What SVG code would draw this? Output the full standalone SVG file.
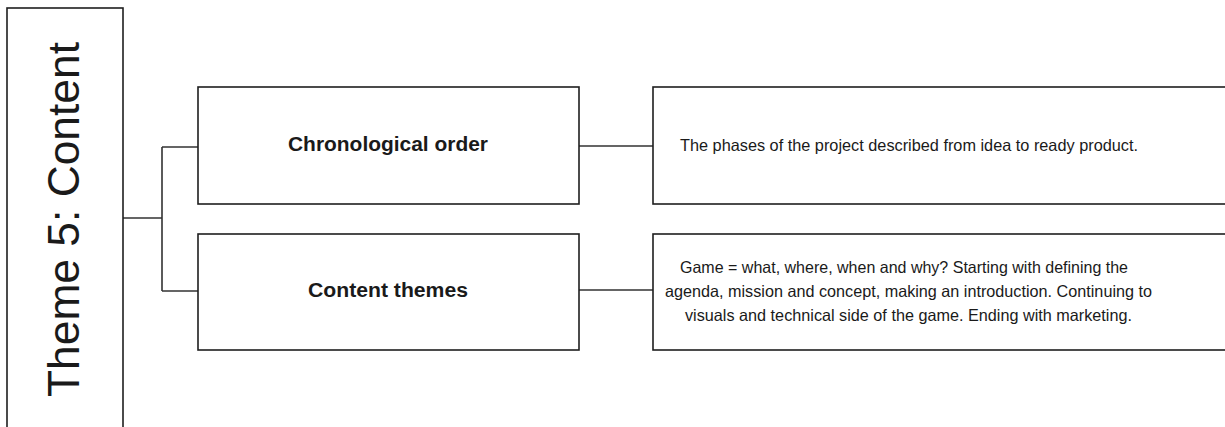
<svg xmlns="http://www.w3.org/2000/svg" width="1225" height="427" viewBox="0 0 1225 427">
<style>
.box{fill:#fff;stroke:#1f1f1f;stroke-width:1.6}
.conn{fill:none;stroke:#333;stroke-width:1.6}
.t{font-family:"Liberation Sans",Arial,sans-serif;fill:#1a1a1a}
.b{font-weight:bold;font-size:19.5px}
.r{font-size:16.5px}
</style>
<rect width="1225" height="427" fill="#fff"/>
<g id="connectors">
<path class="conn" d="M123 218H162M162 147V291M162 147H198M162 291H198"/>
<path class="conn" d="M579 146H653M579 290H653"/>
</g>
<g id="theme">
<rect class="box" x="7" y="8" width="116" height="440"/>
<text class="t" transform="translate(79,219.5) rotate(-90)" text-anchor="middle" font-size="45" textLength="355" lengthAdjust="spacingAndGlyphs">Theme 5: Content</text>
</g>
<g id="chronological">
<rect class="box" x="198" y="87" width="381" height="117"/>
<text class="t b" x="288" y="151" textLength="200" lengthAdjust="spacingAndGlyphs">Chronological order</text>
</g>
<g id="content-themes">
<rect class="box" x="198" y="234" width="381" height="116"/>
<text class="t b" x="308" y="297" textLength="160" lengthAdjust="spacingAndGlyphs">Content themes</text>
</g>
<g id="chronological-desc">
<rect class="box" x="653" y="87" width="600" height="117"/>
<text class="t r" x="680" y="151" textLength="458" lengthAdjust="spacingAndGlyphs">The phases of the project described from idea to ready product.</text>
</g>
<g id="content-themes-desc">
<rect class="box" x="653" y="234" width="600" height="116"/>
<text class="t r" x="680" y="273" textLength="448" lengthAdjust="spacingAndGlyphs">Game = what, where, when and why? Starting with defining the</text>
<text class="t r" x="665" y="297" textLength="487" lengthAdjust="spacingAndGlyphs">agenda, mission and concept, making an introduction. Continuing to</text>
<text class="t r" x="685" y="321" textLength="447" lengthAdjust="spacingAndGlyphs">visuals and technical side of the game. Ending with marketing.</text>
</g>
</svg>
